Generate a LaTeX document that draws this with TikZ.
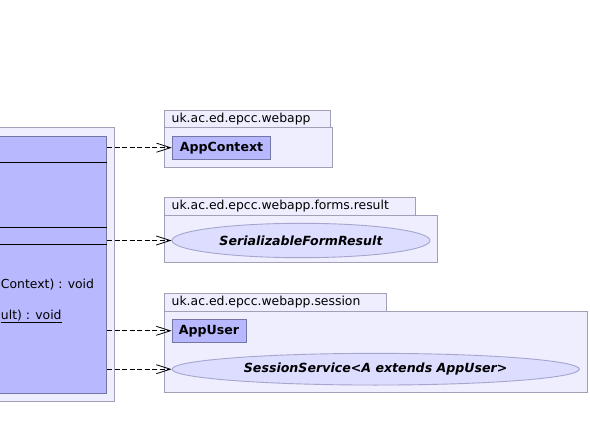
\documentclass[tikz,border=0pt]{standalone}
\usepackage{fontspec}
\setmainfont{DejaVu Sans}
\usetikzlibrary{arrows.meta,shapes.geometric}
\definecolor{pkgfill}{RGB}{238,238,255}
\definecolor{pkgline}{RGB}{160,160,184}
\definecolor{clsfill}{RGB}{184,184,255}
\definecolor{clsline}{RGB}{118,118,165}
\definecolor{ifcfill}{RGB}{221,221,255}
\definecolor{ifcline}{RGB}{165,165,205}
\tikzset{
  pkg/.style={draw=pkgline,fill=pkgfill,line width=0.9bp},
  pkglabel/.style={anchor=west,inner sep=0pt,font=\fontsize{12.4bp}{14bp}\selectfont},
  classbox/.style={draw=clsline,fill=clsfill,line width=0.9bp,inner sep=0pt,
    font=\bfseries\fontsize{12.6bp}{14bp}\selectfont},
  iface/.style={ellipse,draw=ifcline,fill=ifcfill,line width=0.9bp,inner sep=0pt,
    font=\bfseries\itshape\fontsize{12.6bp}{14bp}\selectfont},
  member/.style={anchor=base west,inner sep=0pt,font=\fontsize{12.4bp}{14bp}\selectfont},
  dep/.style={dash pattern=on 5bp off 2.5bp,line width=0.8bp,
    -{Straight Barb[length=14bp,width=9bp]}},
}
\begin{document}
\begin{tikzpicture}[x=1bp,y=-1bp]
\useasboundingbox (0,0) rectangle (590,439);
\fill[white] (0,0) rectangle (590,439);
\clip (0,0) rectangle (590,439);
% class on the left, cut by the edge
\draw[pkg] (-80,127.3) rectangle (114.3,401);
\node[classbox,minimum width=186.7bp,minimum height=257.3bp] (web) at (13.35,264.65) {};
\draw (web.west |- 0,162.3) -- (web.east |- 0,162.3);
\draw (web.west |- 0,227.3) -- (web.east |- 0,227.3);
\draw (web.west |- 0,244.3) -- (web.east |- 0,244.3);
\node[member] (m1) at (0.8,289) {Context) : void};
\node[member] (m2) at (0.8,319.3) {\underline{ult) : void}};
% package webapp
\draw[pkg] (164,110) rectangle (330.7,127.7);
\draw[pkg] (164,127.7) rectangle (332.7,167.3);
\node[pkglabel] (l1) at (171.5,119) {uk.ac.ed.epcc.webapp};
\node[classbox,minimum width=98.4bp,minimum height=23.3bp] (ctx) at (221.5,147.7) {AppContext};
% package forms.result
\draw[pkg] (164,197.7) rectangle (415,215);
\draw[pkg] (164,215) rectangle (437.7,262.3);
\node[pkglabel] (l2) at (171.5,206.4) {uk.ac.ed.epcc.webapp.forms.result};
\node[iface,minimum width=258bp,minimum height=34.4bp] (sfr) at (301,240.5) {SerializableFormResult};
% package session
\draw[pkg] (164,293.3) rectangle (386.7,311.7);
\draw[pkg] (164,311.7) rectangle (587.3,392.7);
\node[pkglabel] (l3) at (171.5,302.5) {uk.ac.ed.epcc.webapp.session};
\node[classbox,minimum width=74bp,minimum height=23bp] (usr) at (209,330.8) {AppUser};
\node[iface,minimum width=407.3bp,minimum height=31.7bp] (sess) at (375.7,369.2) {SessionService<A extends AppUser>};
% dependencies
\draw[dep] (web.east |- ctx.west) -- (ctx.west);
\draw[dep] (web.east |- sfr.west) -- (sfr.west);
\draw[dep] (web.east |- usr.west) -- (usr.west);
\draw[dep] (web.east |- sess.west) -- (sess.west);
\end{tikzpicture}
\end{document}
